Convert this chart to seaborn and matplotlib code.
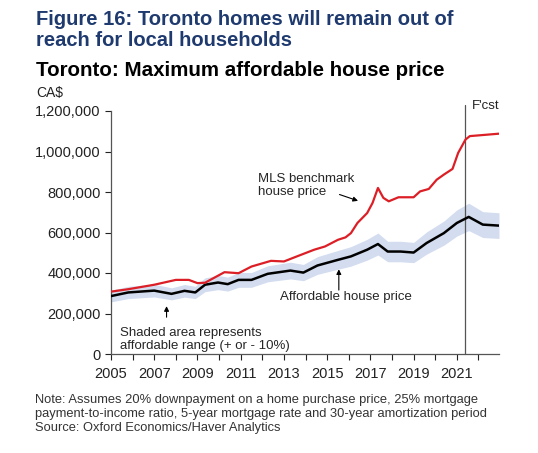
import numpy as np
import pandas as pd
import seaborn as sns
import matplotlib.pyplot as plt

# values (CA$ thousands)
mls_years = [2005.0, 2005.8, 2007.0, 2008.0, 2008.6, 2009.0, 2009.35, 2010.25, 2010.9,
             2011.5, 2012.4, 2013.0, 2013.6, 2014.4, 2014.9, 2015.5, 2015.85, 2016.1,
             2016.4, 2016.85, 2017.1, 2017.35, 2017.6, 2017.85, 2018.3, 2019.0, 2019.3,
             2019.7, 2020.07, 2020.4, 2020.8, 2021.06, 2021.4, 2021.6, 2022.95]
mls_vals = [308, 320, 342, 366, 366, 350, 352, 404, 399,
            432, 460, 457, 482, 515, 531, 564, 576, 597,
            647, 696, 746, 820, 771, 754, 774, 774, 803,
            815, 861, 886, 914, 993, 1059, 1076, 1088]

aff_years = [2005.0, 2005.8, 2007.0, 2007.8, 2008.4, 2008.9, 2009.35, 2009.95, 2010.4,
             2010.9, 2011.5, 2012.25, 2013.3, 2013.9, 2014.55, 2015.5, 2016.1, 2016.85,
             2017.35, 2017.8, 2018.4, 2019.0, 2019.6, 2020.4, 2021.0, 2021.55, 2022.2,
             2022.95]
aff_vals = [286, 304, 313, 297, 312, 304, 342, 353, 345,
            366, 366, 396, 412, 402, 437, 465, 482, 515,
            543, 506, 506, 501, 548, 597, 647, 677, 639,
            634]

year_ticks = list(range(2005, 2023))
year_labels = [str(y) if (y - 2005) % 2 == 0 else "" for y in year_ticks]
y_ticks = [0, 200000, 400000, 600000, 800000, 1000000, 1200000]
forecast_start = 2021.4

mls = pd.DataFrame({"year": mls_years, "price": np.array(mls_vals) * 1000})
aff = pd.DataFrame({"year": aff_years, "price": np.array(aff_vals) * 1000})

sns.set_style("ticks")
plt.rcParams["font.family"] = ["Liberation Sans", "DejaVu Sans"]

W, H = 538, 453
fig = plt.figure(figsize=(W / 100, H / 100), dpi=100)
ax = fig.add_axes([111 / W, 1 - 354 / H, (499 - 111) / W, (354 - 111) / H])

# affordable range (+/- 10%)
ax.fill_between(aff["year"], aff["price"] * 0.9, aff["price"] * 1.1,
                color="#d3ddef", lw=0, zorder=1)
sns.lineplot(data=aff, x="year", y="price", ax=ax, color="black", lw=1.8, zorder=3)
sns.lineplot(data=mls, x="year", y="price", ax=ax, color="#dc1f26", lw=1.6, zorder=3)

ax.set_xlim(2005, 2022.95)
ax.set_ylim(0, 1200000)
ax.set_xticks(year_ticks)
ax.set_xticklabels(year_labels)
ax.set_yticks(y_ticks)
ax.set_yticklabels([f"{v:,}" for v in y_ticks])
ax.set_xlabel("")
ax.set_ylabel("")
ax.tick_params(axis="both", labelsize=10.5, colors="#222222", length=4, width=0.8)
ax.tick_params(axis="x", pad=5)
for s in ["top", "right"]:
    ax.spines[s].set_visible(False)
for s in ["left", "bottom"]:
    ax.spines[s].set_color("#555555")
    ax.spines[s].set_linewidth(0.9)

# forecast divider reaching above the axes
ax.axvline(forecast_start, ymin=0, ymax=1.025, color="#555555", lw=0.9, clip_on=False)
ax.text(forecast_start + 0.3, 1225000, "F'cst", fontsize=9.5, color="#222222",
        va="center", ha="left")

# annotations
arrow = dict(arrowstyle="-|>", color="black", lw=0.8, mutation_scale=7)
ax.text(2011.8, 830000, "MLS benchmark\nhouse price", fontsize=9.5, va="center",
        ha="left", linespacing=1.1)
ax.annotate("", xy=(2016.55, 752000), xytext=(2015.45, 792000), arrowprops=arrow)
ax.text(2012.8, 281000, "Affordable house price", fontsize=9.5, va="center", ha="left")
ax.annotate("", xy=(2015.54, 432000), xytext=(2015.54, 302000), arrowprops=arrow)
ax.text(2005.4, 72000, "Shaded area represents\naffordable range (+ or - 10%)",
        fontsize=9.5, va="center", ha="left", linespacing=1.15)
ax.annotate("", xy=(2007.57, 250000), xytext=(2007.57, 168000), arrowprops=arrow)

# titles and notes
fig.text(36 / W, 1 - 30 / H, "Figure 16: Toronto homes will remain out of\nreach for local households",
         fontsize=14.5, fontweight="bold", color="#1f3a6e", va="center", ha="left",
         linespacing=1.12)
fig.text(36 / W, 1 - 70 / H, "Toronto: Maximum affordable house price",
         fontsize=14.75, fontweight="bold", color="black", va="center", ha="left")
fig.text(36 / W, 1 - 93 / H, "CA$", fontsize=10, color="#222222", va="center", ha="left")
fig.text(35 / W, 1 - 414 / H,
         "Note: Assumes 20% downpayment on a home purchase price, 25% mortgage\n"
         "payment-to-income ratio, 5-year mortgage rate and 30-year amortization period\n"
         "Source: Oxford Economics/Haver Analytics",
         fontsize=9.3, color="#333333", va="center", ha="left", linespacing=1.25)

fig.savefig("out.png", dpi=100, facecolor="white")
